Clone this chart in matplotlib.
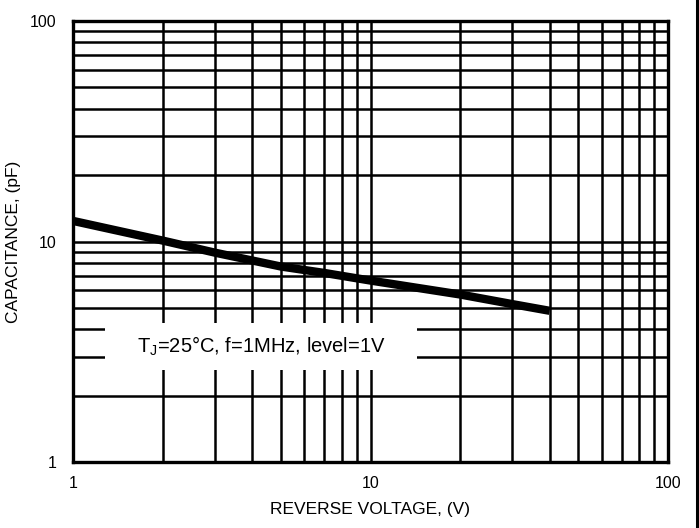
import matplotlib
matplotlib.use("Agg")
import matplotlib.pyplot as plt
from matplotlib.patches import Rectangle
from matplotlib.lines import Line2D
from matplotlib.ticker import LogLocator, FixedFormatter, FixedLocator

plt.rcParams['font.family'] = ['Liberation Sans', 'DejaVu Sans']

# Reverse voltage (V) vs junction capacitance (pF)
voltage = [1, 2, 3, 5, 7, 10, 20, 30, 40]
capacitance = [12.4, 10.1, 8.9, 7.7, 7.2, 6.65, 5.75, 5.2, 4.85]

x_ticks = [1, 10, 100]
x_labels = ['1', '10', '100']
y_ticks = [1, 10, 100]
y_labels = ['1', '10', '100']

note = r'T$_\mathregular{J}$=25°C, f=1MHz, level=1V'

fig = plt.figure(figsize=(6.99, 5.28), dpi=100)
ax = fig.add_axes([73/699, 66/528, 595/699, 441/528])

ax.plot(voltage, capacitance, color='black', lw=6, solid_capstyle='butt', zorder=4)

ax.set_xscale('log')
ax.set_yscale('log')
ax.set_xlim(1, 100)
ax.set_ylim(1, 100)

ax.xaxis.set_major_locator(FixedLocator(x_ticks))
ax.xaxis.set_major_formatter(FixedFormatter(x_labels))
ax.yaxis.set_major_locator(FixedLocator(y_ticks))
ax.yaxis.set_major_formatter(FixedFormatter(y_labels))
ax.xaxis.set_minor_locator(LogLocator(base=10, subs=range(2, 10)))
ax.yaxis.set_minor_locator(LogLocator(base=10, subs=range(2, 10)))
ax.xaxis.set_minor_formatter(plt.NullFormatter())
ax.yaxis.set_minor_formatter(plt.NullFormatter())

ax.grid(True, which='both', color='black', lw=1.8, zorder=1)
ax.set_axisbelow(True)
ax.tick_params(which='both', length=0, labelsize=11.5)
ax.tick_params(axis='x', pad=10)
ax.tick_params(axis='y', pad=12)

for s in ax.spines.values():
    s.set_linewidth(2.4)
    s.set_zorder(5)

ax.set_xlabel('REVERSE VOLTAGE, (V)', fontsize=12.5, labelpad=8)
ax.set_ylabel('CAPACITANCE, (pF)', fontsize=12.5, labelpad=6)

# white box behind the conditions note
ax.add_patch(Rectangle((0.054, 0.209), 0.524, 0.106, transform=ax.transAxes,
                       facecolor='white', edgecolor='none', zorder=3))
ax.text(0.316, 0.262, note, transform=ax.transAxes, ha='center', va='center',
        fontsize=14.5, zorder=6)

# right border of the figure
fig.add_artist(Line2D([697/699, 697/699], [0, 1], color='black', lw=2.2))

fig.savefig('out.png', dpi=100)
